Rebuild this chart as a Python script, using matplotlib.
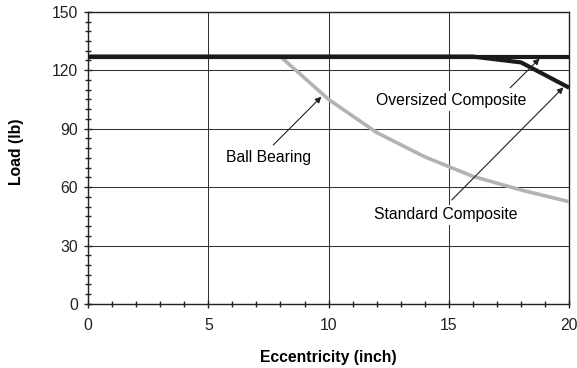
import numpy as np
import matplotlib
matplotlib.use("Agg")
from matplotlib import pyplot as plt
from matplotlib.ticker import MultipleLocator

plt.rcParams['font.family'] = ['Liberation Sans', 'DejaVu Sans']

# data
x_std = [0, 2, 4, 6, 8, 10, 12, 14, 16, 18, 20]
y_std = [127, 127, 127, 127, 127, 127, 127, 127, 127, 124, 111]
x_over = [0, 2, 4, 6, 8, 10, 12, 14, 16, 18, 20]
y_over = [127, 127, 127, 127, 127, 127, 127, 127, 127, 127, 127]
x_ball = [8, 10, 12, 14, 16, 18, 20]
y_ball = [127, 105, 88, 75.5, 65.5, 58.5, 52.5]

fs = 11.3

fig = plt.figure(figsize=(5.77, 3.68), dpi=100)
ax = fig.add_axes([0.1525, 0.174, 0.834, 0.794])

ax.plot(x_ball, y_ball, color='#b3b3b3', lw=2.6, solid_capstyle='butt', zorder=3)
ax.plot(x_over, y_over, color='#1a1a1a', lw=3.0, solid_capstyle='butt', zorder=4)
ax.plot(x_std, y_std, color='#1a1a1a', lw=3.0, solid_capstyle='butt', zorder=4)

ax.set_xlim(0, 20)
ax.set_ylim(0, 150)
ax.xaxis.set_major_locator(MultipleLocator(5))
ax.xaxis.set_minor_locator(MultipleLocator(1))
ax.yaxis.set_major_locator(MultipleLocator(30))
ax.yaxis.set_minor_locator(MultipleLocator(5))
ax.tick_params(which='major', direction='inout', length=6, width=1, labelsize=fs,
               colors='#222222')
ax.tick_params(which='minor', direction='inout', length=5, width=1, color='#222222')
ax.tick_params(axis='x', pad=7)
ax.tick_params(axis='y', pad=4)
ax.grid(True, which='major', color='#333333', lw=0.75)
ax.set_axisbelow(True)
for s in ax.spines.values():
    s.set_color('#222222')
    s.set_linewidth(1.0)

ax.set_xlabel('Eccentricity (inch)', fontsize=fs, fontweight='bold', labelpad=12)
ax.set_ylabel('Load (lb)', fontsize=fs, fontweight='bold')
ax.yaxis.set_label_coords(-0.133, 0.52)

box = dict(boxstyle='square,pad=0.15', fc='white', ec='none')
arrow = dict(arrowstyle='-|>', color='#222222', lw=0.8, mutation_scale=9, shrinkA=0, shrinkB=0)

ax.text(7.5, 75, 'Ball Bearing', ha='center', va='center', fontsize=fs, bbox=box, zorder=5)
ax.annotate('', xy=(9.7, 106.4), xytext=(7.7, 81.6), arrowprops=arrow, zorder=5)

ax.text(15.1, 104.2, 'Oversized Composite', ha='center', va='center', fontsize=fs, bbox=box, zorder=5)
ax.annotate('', xy=(18.77, 126), xytext=(17.55, 111), arrowprops=arrow, zorder=5)

ax.text(14.85, 45.7, 'Standard Composite', ha='center', va='center', fontsize=fs, bbox=box, zorder=5)
ax.annotate('', xy=(19.76, 111.2), xytext=(15.12, 53.4), arrowprops=arrow, zorder=5)

fig.savefig('out.png', dpi=100)
